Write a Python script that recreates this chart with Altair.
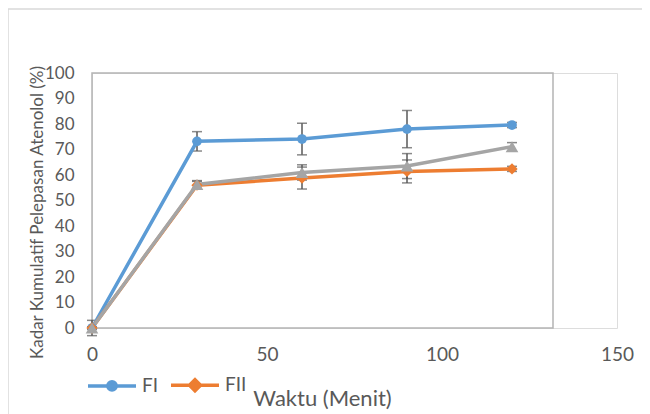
import altair as alt
import pandas as pd

waktu = [0, 30, 60, 90, 120]
series_names = ["FI", "FII", "FIII"]
fi = [0.0, 73.2, 74.1, 78.0, 79.6]
fi_sd = [3.0, 3.8, 6.2, 7.3, 1.0]
fii = [0.0, 56.0, 58.8, 61.4, 62.4]
fii_sd = [0.5, 1.5, 4.3, 4.5, 1.0]
fiii = [0.0, 56.3, 61.0, 63.5, 71.1]
fiii_sd = [0.5, 1.5, 3.0, 4.9, 1.6]
colors = ["#5B9BD5", "#ED7D31", "#A5A5A5"]
x_ticks = [0, 50, 100, 150]
y_ticks = [0, 10, 20, 30, 40, 50, 60, 70, 80, 90, 100]

rows = []
for name, vals, sds in zip(series_names, [fi, fii, fiii], [fi_sd, fii_sd, fiii_sd]):
    for t, v, s in zip(waktu, vals, sds):
        rows.append({"seri": name, "waktu": t, "nilai": v, "lo": v - s, "hi": v + s})
df = pd.DataFrame(rows)
caps = pd.concat([
    df[["seri", "waktu", "lo"]].rename(columns={"lo": "ujung"}),
    df[["seri", "waktu", "hi"]].rename(columns={"hi": "ujung"}),
])

FONT = "Lato"
GRAY = "#595959"

xs = alt.Scale(domain=[0, 150], nice=False)
ys = alt.Scale(domain=[0, 100], nice=False)
cscale = alt.Scale(domain=series_names, range=colors)

x_axis = alt.Axis(
    values=x_ticks, title="Waktu (Menit)", grid=False, domain=False, ticks=False,
    labelFlush=False, labelOverlap=False,
    labelPadding=17, labelFontSize=19, labelColor=GRAY, labelFont=FONT,
    titleFont=FONT, titleFontSize=22, titleColor=GRAY, titleFontWeight="normal",
    titleX=230, titleY=70, titleBaseline="middle")
y_axis = alt.Axis(
    values=y_ticks, title="Kadar Kumulatif  Pelepasan Atenolol (%)", grid=False,
    domain=False, ticks=False, labelFlush=False, labelOverlap=False,
    labelPadding=18, labelFontSize=17, labelColor=GRAY,
    labelFont=FONT, titleFont=FONT, titleFontSize=17, titleColor=GRAY,
    titleFontWeight="normal", titleX=-55, titleY=139, titleBaseline="middle")


def X(f="waktu"):
    return alt.X(f + ":Q", scale=xs, axis=x_axis)


def Y(f="nilai"):
    return alt.Y(f + ":Q", scale=ys, axis=y_axis)


base = alt.Chart(df)
one = alt.Chart(pd.DataFrame({"a": [0]}))

outer = one.mark_rect(fillOpacity=0, stroke="#d9d9d9", strokeWidth=1.5).encode(
    x=alt.value(-84), x2=alt.value(660), y=alt.value(-64), y2=alt.value(420))
frame = one.mark_rect(fillOpacity=0, stroke="#b4b4b4", strokeWidth=1.5).encode(
    x=alt.value(0), x2=alt.value(461), y=alt.value(0), y2=alt.value(255))

err = base.mark_rule(color=GRAY, strokeWidth=1.5).encode(
    x=X(), y=Y("lo"), y2="hi:Q")
cap = alt.Chart(caps).mark_tick(color=GRAY, orient="horizontal", size=10, thickness=1.5).encode(
    x=X(), y=Y("ujung"))

lines = base.mark_line(strokeWidth=3.5).encode(
    x=X(), y=Y(), color=alt.Color("seri:N", scale=cscale, legend=None))
pts = base.mark_point(filled=True, opacity=1).encode(
    x=X(), y=Y(),
    color=alt.Color("seri:N", scale=cscale, legend=None),
    shape=alt.Shape("seri:N", scale=alt.Scale(domain=series_names,
                    range=["circle", "diamond", "triangle-up"]), legend=None),
    size=alt.Size("seri:N", scale=alt.Scale(domain=series_names, range=[95, 160, 170]), legend=None))

L = "M-2.4,0H2.4"
leg_paths = [
    L + "M-0.42,0A0.42,0.42,0,1,0,0.42,0A0.42,0.42,0,1,0,-0.42,0Z",
    L + "M-0.55,0L0,-0.55L0.55,0L0,0.55Z",
    L + "M0,-0.55L0.55,0.45L-0.55,0.45Z",
]
legend = alt.Legend(title=None, orient="none", legendX=8, legendY=300, direction="horizontal",
                    values=["FI", "FII"], labelFont=FONT, labelFontSize=19, labelColor=GRAY,
                    symbolSize=400, symbolStrokeWidth=3.5, labelOffset=18, columnPadding=5,
                    padding=0)
leg = base.transform_filter("datum.waktu < 0").mark_point(filled=True, opacity=1).encode(
    x=X(), y=Y(),
    color=alt.Color("seri:N", scale=cscale, legend=legend),
    stroke=alt.Stroke("seri:N", scale=cscale, legend=legend),
    shape=alt.Shape("seri:N", scale=alt.Scale(domain=series_names, range=leg_paths), legend=legend))

chart = alt.layer(outer, frame, err, cap, lines, pts, leg).resolve_scale(
    color="independent", shape="independent", stroke="independent", size="independent"
).properties(
    width=525, height=255,
    autosize=alt.AutoSizeParams(type="none"),
    padding={"left": 84, "top": 65, "right": 25, "bottom": 86},
).configure_view(stroke=None).configure(background="white")

chart.save("out.html", embed_options={"renderer": "svg", "actions": False})
